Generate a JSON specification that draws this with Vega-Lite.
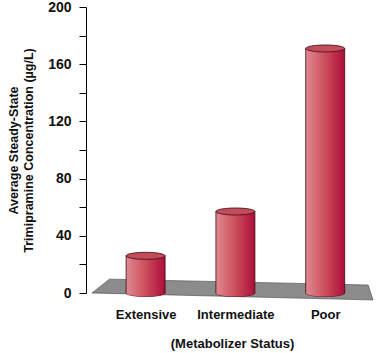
{
  "$schema": "https://vega.github.io/schema/vega-lite/v6.json",
  "width": 292,
  "height": 286,
  "autosize": "none",
  "padding": {"left": 86, "top": 7, "right": 0, "bottom": 60},
  "background": "white",
  "config": {"view": {"stroke": null}, "font": "Liberation Sans"},
  "datasets": {
    "floor": [
      {"fx": 0.403, "ftop": 0, "fbot": 0},
      {"fx": 0.597, "ftop": 9.7, "fbot": -0.3},
      {"fx": 3.478, "ftop": 5.6, "fbot": -4.8},
      {"fx": 3.532, "ftop": -4.9, "fbot": -4.9}
    ],
    "bars": [
      {"pos": 1, "status": "Extensive", "value": 26},
      {"pos": 2, "status": "Intermediate", "value": 57},
      {"pos": 3, "status": "Poor", "value": 171}
    ]
  },
  "encoding": {
    "x": {
      "type": "quantitative",
      "scale": {"domain": [0.392, 3.532], "nice": false, "zero": false},
      "axis": {
        "values": [1, 2, 3],
        "labelExpr": "datum.value == 1 ? 'Extensive' : datum.value == 2 ? 'Intermediate' : 'Poor'",
        "title": "(Metabolizer Status)", "domain": false, "ticks": false, "grid": false, "labelAngle": 0,
        "labelFontSize": 13, "labelFontWeight": "bold", "labelColor": "#111111", "labelPadding": 15,
        "labelOverlap": false, "labelFlush": false,
        "titleFontSize": 13, "titleFontWeight": "bold", "titleColor": "#111111", "titlePadding": 16
      }
    },
    "y": {
      "type": "quantitative",
      "scale": {"domain": [0, 200], "nice": false},
      "axis": {
        "values": [0, 20, 40, 60, 80, 100, 120, 140, 160, 180, 200],
        "labelExpr": "datum.value % 40 === 0 ? datum.label : ''",
        "grid": false, "domainColor": "#000000", "tickColor": "#000000", "tickSize": 7,
        "labelPadding": 8, "labelFontSize": 14, "labelFontWeight": "bold", "labelColor": "#111111",
        "title": ["Average Steady-State", "Trimipramine Concentration (µg/L)"],
        "titleFontSize": 12.5, "titleFontWeight": "bold", "titleColor": "#111111", "titlePadding": 12, "titleLineHeight": 15
      }
    }
  },
  "layer": [
    {
      "data": {"name": "floor"},
      "mark": {"type": "area", "fill": "#8c8c8c", "stroke": "#444444", "strokeWidth": 0.6},
      "encoding": {
        "x": {"field": "fx"},
        "y": {"field": "ftop"},
        "y2": {"field": "fbot"}
      }
    },
    {
      "data": {"name": "bars"},
      "mark": {"type": "point", "filled": true, "size": 1521, "shape": "M-1,0A1,0.18,0,1,0,1,0A1,0.18,0,1,0,-1,0Z",
        "fill": {"gradient": "linear", "x1": 0, "y1": 0, "x2": 1, "y2": 0, "stops": [{"offset": 0, "color": "#e08a90"}, {"offset": 0.5, "color": "#cc4d5c"}, {"offset": 1, "color": "#ad0e3a"}]},
        "stroke": "#3a0a14", "strokeWidth": 0.8, "opacity": 1},
      "encoding": {"x": {"field": "pos"}, "y": {"datum": 0}}
    },
    {
      "data": {"name": "bars"},
      "mark": {"type": "bar", "width": 39,
        "fill": {"gradient": "linear", "x1": 0, "y1": 0, "x2": 1, "y2": 0, "stops": [{"offset": 0, "color": "#e08a90"}, {"offset": 0.5, "color": "#cc4d5c"}, {"offset": 1, "color": "#ad0e3a"}]},
        "stroke": "#3a0a14", "strokeWidth": 0.8},
      "encoding": {"x": {"field": "pos"}, "y": {"field": "value"}}
    },
    {
      "data": {"name": "bars"},
      "mark": {"type": "point", "filled": true, "size": 1480, "shape": "M-1,0A1,0.18,0,1,0,1,0A1,0.18,0,1,0,-1,0Z",
        "fill": {"gradient": "linear", "x1": 0, "y1": 0, "x2": 1, "y2": 0, "stops": [{"offset": 0, "color": "#e08a90"}, {"offset": 0.5, "color": "#cc4d5c"}, {"offset": 1, "color": "#ad0e3a"}]},
        "strokeWidth": 0, "opacity": 1},
      "encoding": {"x": {"field": "pos"}, "y": {"datum": 0}}
    },
    {
      "data": {"name": "bars"},
      "mark": {"type": "point", "filled": true, "size": 1521, "shape": "M-1,0A1,0.18,0,1,0,1,0A1,0.18,0,1,0,-1,0Z",
        "fill": "#c24c5a", "stroke": "#3a0a14", "strokeWidth": 0.8, "opacity": 1},
      "encoding": {"x": {"field": "pos"}, "y": {"field": "value"}}
    }
  ]
}
